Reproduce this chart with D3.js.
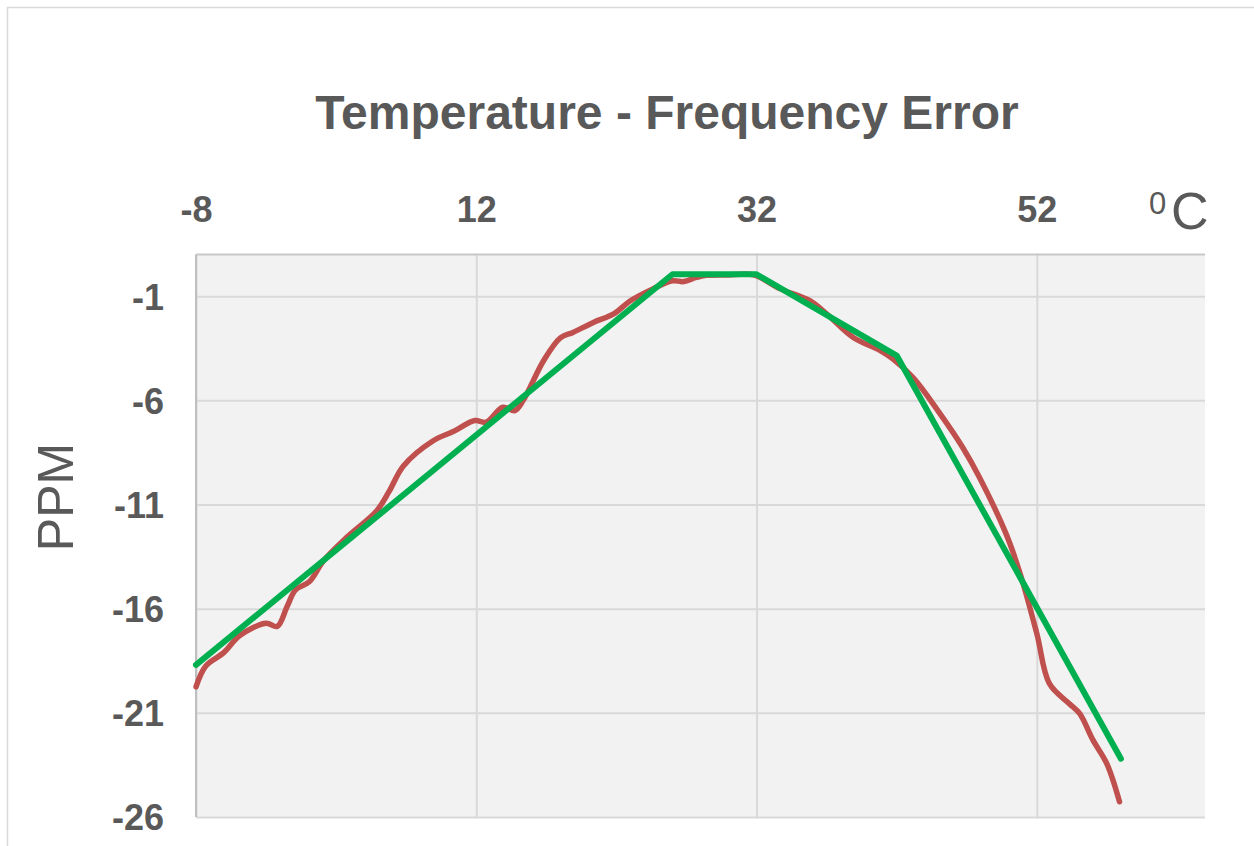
<!DOCTYPE html>
<html>
<head>
<meta charset="utf-8">
<script src="https://cdn.jsdelivr.net/npm/d3@7"></script>
<style>
  body { margin: 0; background: #fff; }
  svg text { font-family: "Liberation Sans", Arial, sans-serif; fill: #595959; }
</style>
</head>
<body>
<div id="chart"></div>
<script>
// measured curve (red) - temperature / ppm
var measTemp = [-8, -7.3, -6, -4.9, -3, -2.2, -1.5, -0.9, 0.1, 1.1, 2.8, 4.9, 5.8, 6.8, 8.9, 10.35, 11.9, 12.7, 13.9, 14.75, 15.35, 16.8, 18, 18.9, 20.35, 21.8, 23, 24.6, 26, 26.8, 27.7, 28.4, 30, 31.8, 33.7, 35.8, 37, 38.9, 40.8, 41.7, 43.2, 45.1, 46.7, 47.9, 49.8, 50.8, 52, 52.9, 54.3, 55.05, 56, 57, 57.9];
var measPpm = [-19.75, -18.75, -18.1, -17.3, -16.7, -16.85, -15.9, -15.1, -14.7, -13.7, -12.55, -11.3, -10.35, -9.15, -7.95, -7.5, -6.97, -7.05, -6.33, -6.49, -6.0, -4.1, -3.0, -2.74, -2.26, -1.85, -1.22, -0.65, -0.26, -0.3, -0.1, 0.0, 0.02, 0.02, -0.65, -1.22, -1.85, -2.98, -3.6, -4.0, -4.93, -6.65, -8.25, -9.69, -12.4, -14.3, -17.2, -19.6, -20.55, -21.03, -22.3, -23.45, -25.27];

// fitted piecewise line (green)
var fitTemp = [-8, 26, 32, 42, 58];
var fitPpm = [-18.7, 0.05, 0.05, -3.85, -23.2];

var xTicks = [-8, 12, 32, 52];
var yTicks = [-1, -6, -11, -16, -21, -26];

var titleText = "Temperature - Frequency Error";

var width = 1254, height = 846;
var plotLeft = 196, plotRight = 1205, plotTop = 254.5, plotBottom = 817;

var svg = d3.select("#chart").append("svg")
    .attr("width", width)
    .attr("height", height);

// outer chart border
svg.append("rect")
    .attr("x", 7.5).attr("y", 7.5)
    .attr("width", 1270).attr("height", 860)
    .attr("fill", "#fff")
    .attr("stroke", "#d9d9d9")
    .attr("stroke-width", 1.5);

var x = d3.scaleLinear().domain([-8, 64]).range([plotLeft, plotRight]);
var y = d3.scaleLinear().domain([-26, 1]).range([plotBottom, plotTop]);
var plainFmt = function (d) { return String(d); };

// plot background
svg.append("rect")
    .attr("x", plotLeft).attr("y", plotTop)
    .attr("width", plotRight - plotLeft).attr("height", plotBottom - plotTop)
    .attr("fill", "#f2f2f2");

// gridlines
svg.append("g")
    .attr("transform", "translate(0," + plotBottom + ")")
    .call(d3.axisBottom(x).tickValues(xTicks).tickSize(-(plotBottom - plotTop)).tickFormat(""))
    .call(function (g) { g.select(".domain").remove(); })
    .selectAll("line").attr("stroke", "#d9d9d9").attr("stroke-width", 2);

svg.append("g")
    .attr("transform", "translate(" + plotLeft + ",0)")
    .call(d3.axisLeft(y).tickValues(yTicks).tickSize(-(plotRight - plotLeft)).tickFormat(""))
    .call(function (g) { g.select(".domain").remove(); })
    .selectAll("line").attr("stroke", "#d9d9d9").attr("stroke-width", 2);

// axis lines (top and left)
svg.append("line")
    .attr("x1", plotLeft).attr("x2", plotRight).attr("y1", plotTop).attr("y2", plotTop)
    .attr("stroke", "#c8c8c8").attr("stroke-width", 2);
svg.append("line")
    .attr("x1", plotLeft).attr("x2", plotLeft).attr("y1", plotTop).attr("y2", plotBottom)
    .attr("stroke", "#bfbfbf").attr("stroke-width", 2);

// tick labels
var xAxis = svg.append("g")
    .attr("transform", "translate(0,222)")
    .call(d3.axisTop(x).tickValues(xTicks).tickSize(0).tickPadding(0).tickFormat(plainFmt));
xAxis.select(".domain").remove();
xAxis.selectAll("text")
    .attr("dy", 0)
    .style("font-size", "36px").style("font-weight", "bold")
    .style("font-family", "'Liberation Sans', Arial, sans-serif")
    .attr("fill", "#595959");

var yAxis = svg.append("g")
    .attr("transform", "translate(164,0)")
    .call(d3.axisLeft(y).tickValues(yTicks).tickSize(0).tickPadding(0).tickFormat(plainFmt));
yAxis.select(".domain").remove();
yAxis.selectAll("text")
    .attr("dy", "0.36em")
    .style("font-size", "36px").style("font-weight", "bold")
    .style("font-family", "'Liberation Sans', Arial, sans-serif")
    .attr("fill", "#595959");

// title
svg.append("text")
    .attr("x", 667).attr("y", 129)
    .attr("text-anchor", "middle")
    .style("font-size", "48px").style("font-weight", "bold")
    .text(titleText);

// unit label
svg.append("text")
    .attr("x", 1149).attr("y", 214)
    .style("font-size", "31px")
    .text("0");
svg.append("text")
    .attr("x", 1171).attr("y", 229)
    .style("font-size", "52px")
    .text("C");

// y label
svg.append("text")
    .attr("transform", "translate(73,497) rotate(-90)")
    .attr("text-anchor", "middle")
    .style("font-size", "50px")
    .text("PPM");

// lines
var measData = measTemp.map(function (t, i) { return [t, measPpm[i]]; });
var fitData = fitTemp.map(function (t, i) { return [t, fitPpm[i]]; });

var smooth = d3.line()
    .x(function (d) { return x(d[0]); })
    .y(function (d) { return y(d[1]); })
    .curve(d3.curveCatmullRom.alpha(0.5));

var straight = d3.line()
    .x(function (d) { return x(d[0]); })
    .y(function (d) { return y(d[1]); });

svg.append("path")
    .datum(measData)
    .attr("d", smooth)
    .attr("fill", "none")
    .attr("stroke", "#c0504d")
    .attr("stroke-width", 5.5)
    .attr("stroke-linecap", "round")
    .attr("stroke-linejoin", "round");

svg.append("path")
    .datum(fitData)
    .attr("d", straight)
    .attr("fill", "none")
    .attr("stroke", "#00b050")
    .attr("stroke-width", 6)
    .attr("stroke-linecap", "round")
    .attr("stroke-linejoin", "round");
</script>
</body>
</html>
